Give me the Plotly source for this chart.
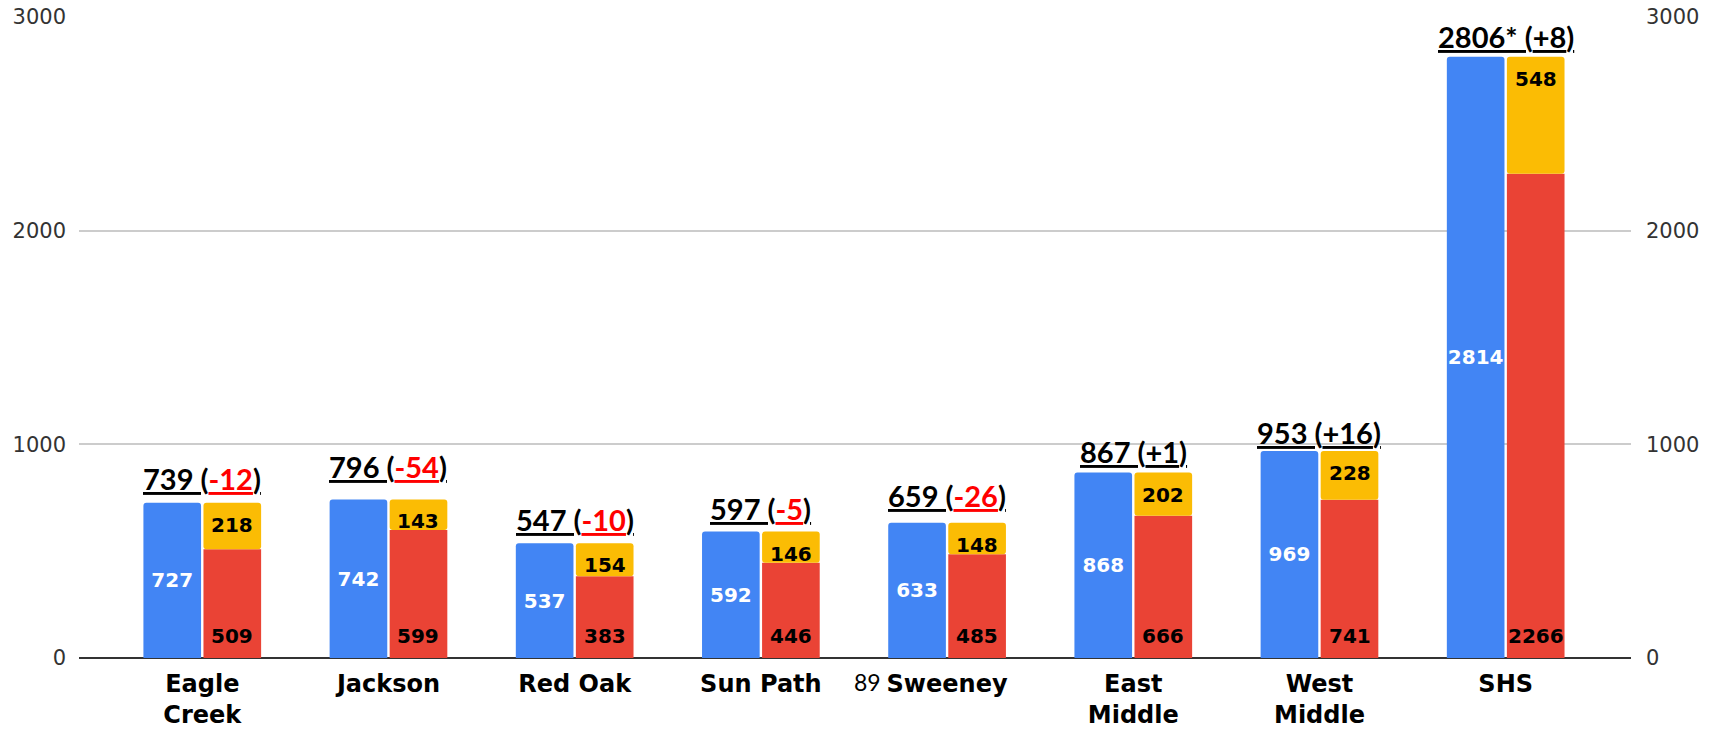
import plotly.graph_objects as go

# ---- data ----
categories = ["Eagle Creek", "Jackson", "Red Oak", "Sun Path", "Sweeney",
              "East Middle", "West Middle", "SHS"]
tick_labels = ["Eagle<br>Creek", "Jackson", "Red Oak", "Sun Path", "Sweeney",
               "East<br>Middle", "West<br>Middle", "SHS"]
blue_vals = [727, 742, 537, 592, 633, 868, 969, 2814]
red_vals = [509, 599, 383, 446, 485, 666, 741, 2266]
yellow_vals = [218, 143, 154, 146, 148, 202, 228, 548]
prior_vals = [739, 796, 547, 597, 659, 867, 953, 2806]
prior_marks = ["", "", "", "", "", "", "", "*"]
changes = ["-12", "-54", "-10", "-5", "-26", "+1", "+16", "+8"]
y_ticks = [0, 1000, 2000, 3000]

BLUE = "#4285F4"
RED = "#EA4335"
YELLOW = "#FBBC04"

W, H = 1719, 729
ML, MR, MT, MB = 79, 88, 17, 71
XR = [-0.662, 7.673]
BARGAP = 0.355

fig = go.Figure()
fig.add_trace(go.Bar(
    x=categories, y=blue_vals, offsetgroup="a",
    marker=dict(color=BLUE, cornerradius=3, line=dict(width=0)),
    text=[str(v) for v in blue_vals], textposition="inside", textangle=0,
    insidetextanchor="middle", constraintext="none",
    textfont=dict(family="DejaVu Sans", size=20, color="white", weight="bold"),
    hoverinfo="skip", showlegend=False))
fig.add_trace(go.Bar(
    x=categories, y=red_vals, offsetgroup="b",
    marker=dict(color=RED, line=dict(width=0)),
    hoverinfo="skip", showlegend=False))
fig.add_trace(go.Bar(
    x=categories, y=yellow_vals, base=red_vals, offsetgroup="b",
    marker=dict(color=YELLOW, cornerradius=3, line=dict(width=0)),
    hoverinfo="skip", showlegend=False))
# invisible companion so the right-hand axis is drawn
fig.add_trace(go.Scatter(
    x=categories, y=blue_vals, yaxis="y2", mode="markers",
    marker=dict(opacity=0), hoverinfo="skip", showlegend=False))

# pixel offset of the second bar in each group
plot_w = W - ML - MR
unit = plot_w / (XR[1] - XR[0])
half_slot = (1 - BARGAP) * unit / 4.0

annots = []
lab_font = dict(family="DejaVu Sans", size=20, color="black", weight="bold")
for c, r, yv in zip(categories, red_vals, yellow_vals):
    annots.append(dict(x=c, y=0, xref="x", yref="y", text=str(r),
                       showarrow=False, yanchor="bottom", xshift=half_slot,
                       yshift=8, font=lab_font))
    annots.append(dict(x=c, y=r + yv, xref="x", yref="y", text=str(yv),
                       showarrow=False, yanchor="top", xshift=half_slot,
                       yshift=-8, font=lab_font))

head_font = dict(family="Lato", size=29, color="black", weight="bold")
for c, p, m, ch in zip(categories, prior_vals, prior_marks, changes):
    if ch.startswith("-"):
        mid = "<span style='color:#FF0000'><u>%s</u></span>" % ch
    else:
        mid = "<u>%s</u>" % ch
    txt = "<u>%d%s (</u>%s<u>)</u>" % (p, m, mid)
    annots.append(dict(x=c, y=p, xref="x", yref="y", text=txt,
                       showarrow=False, yanchor="bottom", yshift=2,
                       font=head_font))

# stray "89" text near the Sweeney label
annots.append(dict(x="Sweeney", y=0, xref="x", yref="paper", text="89",
                   showarrow=False, yanchor="middle", xshift=-80, yshift=-24,
                   font=dict(family="Lato", size=23, color="black")))

axis_font = dict(family="DejaVu Sans", size=21, color="#333333")
fig.update_layout(
    width=W, height=H,
    margin=dict(l=ML, r=MR, t=MT, b=MB, autoexpand=False),
    paper_bgcolor="white", plot_bgcolor="white",
    barmode="group", bargap=BARGAP, bargroupgap=0.04,
    showlegend=False,
    annotations=annots,
    xaxis=dict(type="category", range=XR, tickvals=categories,
               ticktext=tick_labels, showgrid=False, ticks="",
               showline=False, zeroline=False, automargin=False,
               ticklabelstandoff=9,
               tickfont=dict(family="DejaVu Sans", size=24, color="black",
                             weight="bold")),
    yaxis=dict(range=[0, 3000], tickvals=y_ticks, showgrid=True,
               gridcolor="#CCCCCC", gridwidth=1.5, zeroline=True,
               zerolinecolor="#333333", zerolinewidth=2, ticks="",
               tickfont=axis_font, automargin=False, ticklabelstandoff=12),
    yaxis2=dict(range=[0, 3000], tickvals=y_ticks, overlaying="y",
                side="right", showgrid=False, zeroline=False, ticks="",
                showline=False, tickfont=axis_font, automargin=False,
                ticklabelstandoff=14),
)

fig.write_html(
    "out.html",
    config={"displayModeBar": False},
    post_script="document.body.style.margin='0px';"
                "document.body.style.overflow='hidden';")
